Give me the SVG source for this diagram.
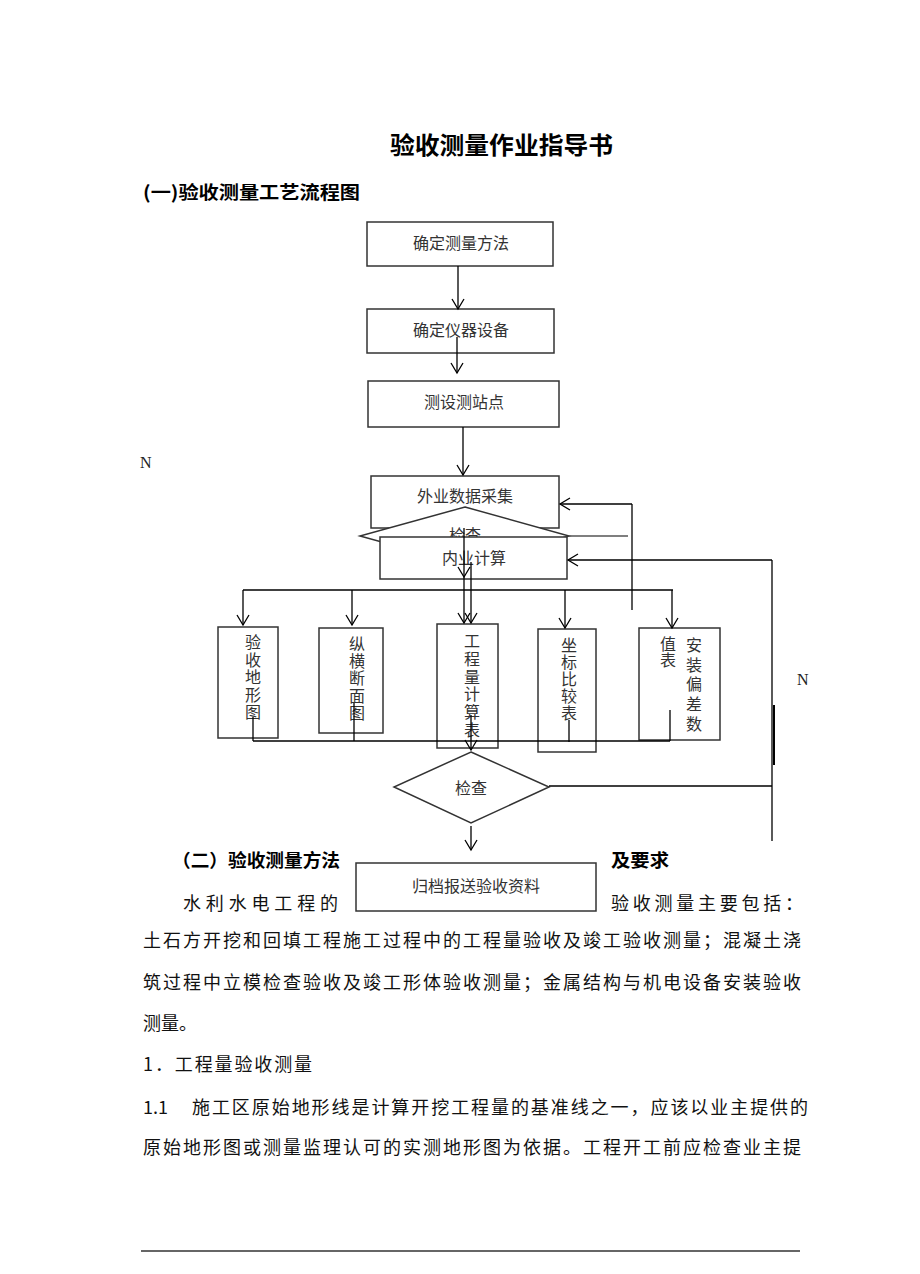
<svg xmlns="http://www.w3.org/2000/svg" width="920" height="1274" viewBox="0 0 920 1274">
<style>
.box{fill:#fff;stroke:#333;stroke-width:1.5}
.bt{font-family:"Noto Sans CJK SC",sans-serif;font-size:16px;fill:#333}
.vt{font-family:"Noto Sans CJK SC",sans-serif;font-size:16px;fill:#333;text-anchor:middle}
.h{font-family:"Noto Sans CJK SC",sans-serif;font-weight:bold;fill:#000}
.body{font-family:"Noto Sans CJK SC",sans-serif;font-size:18px;fill:#111}
.ser{font-family:"Liberation Serif",serif;font-size:16px;fill:#222}
.ln{stroke:#000;stroke-width:1.3;fill:none}
.gl{stroke:#555;stroke-width:1.3;fill:none}
.arr{marker-end:url(#ah)}
</style>
<defs>
<marker id="ah" markerUnits="userSpaceOnUse" markerWidth="14" markerHeight="14" viewBox="0 0 14 14" refX="12" refY="7" orient="auto">
<path d="M2,1 L12,7 L2,13" fill="none" stroke="#000" stroke-width="1.3"/>
</marker>
</defs>
<rect width="920" height="1274" fill="#fff"/>

<g id="headings">
<text class="h" x="390" y="154" font-size="24" textLength="223" lengthAdjust="spacingAndGlyphs">验收测量作业指导书</text>
<text class="h" x="143" y="199" font-size="18" textLength="217" lengthAdjust="spacingAndGlyphs">(一)验收测量工艺流程图</text>
</g>

<g id="n-method">
<rect class="box" x="367" y="222" width="186" height="44"/>
<text class="bt" x="461" y="249" text-anchor="middle">确定测量方法</text>
</g>
<g id="n-instrument">
<rect class="box" x="367" y="309" width="187" height="44"/>
<text class="bt" x="461" y="336" text-anchor="middle">确定仪器设备</text>
</g>
<g id="n-station">
<rect class="box" x="368" y="381" width="191" height="46"/>
<text class="bt" x="464" y="408" text-anchor="middle">测设测站点</text>
</g>
<g id="n-field">
<rect class="box" x="371" y="476" width="188" height="52"/>
<text class="bt" x="465" y="502" text-anchor="middle">外业数据采集</text>
</g>
<g id="n-check1">
<polygon class="box" points="465,507 569,536 465,565 360,536"/>
<text class="bt" x="465" y="541" text-anchor="middle">检查</text>
</g>
<g id="n-calc">
<rect class="box" x="380" y="537" width="187" height="42"/>
<text class="bt" x="474" y="564" text-anchor="middle">内业计算</text>
</g>

<g id="n-topo">
<rect class="box" x="218" y="627" width="60" height="111"/>
<text class="vt"><tspan x="253" y="648">验</tspan><tspan x="253" y="665.5">收</tspan><tspan x="253" y="683">地</tspan><tspan x="253" y="700.5">形</tspan><tspan x="253" y="718">图</tspan></text>
</g>
<g id="n-section">
<rect class="box" x="319" y="628" width="64" height="105"/>
<text class="vt"><tspan x="357" y="650">纵</tspan><tspan x="357" y="667">横</tspan><tspan x="357" y="684">断</tspan><tspan x="357" y="702">面</tspan><tspan x="357" y="719">图</tspan></text>
</g>
<g id="n-quantity">
<rect class="box" x="437" y="624" width="61" height="124"/>
<text class="vt"><tspan x="472" y="647">工</tspan><tspan x="472" y="665">程</tspan><tspan x="472" y="683">量</tspan><tspan x="472" y="700">计</tspan><tspan x="472" y="718">算</tspan><tspan x="472" y="736">表</tspan></text>
</g>
<g id="n-coord">
<rect class="box" x="538" y="629" width="58" height="123"/>
<text class="vt"><tspan x="569" y="651">坐</tspan><tspan x="569" y="668">标</tspan><tspan x="569" y="685">比</tspan><tspan x="569" y="702">较</tspan><tspan x="569" y="719">表</tspan></text>
</g>
<g id="n-install">
<rect class="box" x="639" y="628" width="81" height="112"/>
<text class="vt"><tspan x="668" y="650">值</tspan><tspan x="668" y="666">表</tspan></text>
<text class="vt"><tspan x="694" y="651">安</tspan><tspan x="694" y="671">装</tspan><tspan x="694" y="690">偏</tspan><tspan x="694" y="710">差</tspan><tspan x="694" y="730">数</tspan></text>
</g>

<g id="n-check2">
<polygon class="box" points="471,752 549,787 471,823 394,787"/>
<text class="bt" x="471" y="794" text-anchor="middle">检查</text>
</g>
<g id="n-archive">
<rect class="box" x="356" y="863" width="240" height="48"/>
<text class="bt" x="476" y="892" text-anchor="middle">归档报送验收资料</text>
</g>

<g id="labels">
<text class="ser" x="140" y="468">N</text>
<text class="ser" x="797" y="685">N</text>
</g>

<g id="connectors">
<line class="ln arr" x1="458" y1="266" x2="458" y2="309"/>
<line class="ln arr" x1="457" y1="337" x2="457" y2="373"/>
<line class="ln arr" x1="463" y1="427" x2="463" y2="475"/>
<line class="ln arr" x1="464" y1="528" x2="464" y2="577"/>
<line class="ln arr" x1="464" y1="577" x2="464" y2="623"/>
<line class="ln arr" x1="471" y1="562" x2="471" y2="623"/>
<line class="ln" x1="243" y1="590" x2="673" y2="590"/>
<line class="ln arr" x1="243" y1="590" x2="243" y2="625"/>
<line class="ln arr" x1="352" y1="590" x2="352" y2="625"/>
<line class="ln arr" x1="565" y1="590" x2="565" y2="628"/>
<line class="ln arr" x1="672" y1="590" x2="672" y2="628"/>
<line class="gl" x1="569" y1="536" x2="628" y2="536"/>
<line class="ln" x1="632" y1="504" x2="632" y2="610"/>
<line class="ln arr" x1="632" y1="504" x2="560" y2="504"/>
<line class="ln arr" x1="772" y1="560" x2="568" y2="560"/>
<line class="ln" x1="772" y1="560" x2="772" y2="841"/>
<line x1="774" y1="705" x2="774" y2="765" stroke="#000" stroke-width="2"/>
<line class="ln" x1="549" y1="786" x2="772" y2="786"/>
<line class="ln" x1="253" y1="741" x2="670" y2="741"/>
<line class="ln" x1="253" y1="717" x2="253" y2="741"/>
<line class="ln" x1="354" y1="703" x2="354" y2="741"/>
<line class="ln" x1="569" y1="720" x2="569" y2="742"/>
<line class="ln" x1="670" y1="710" x2="670" y2="741"/>
<line class="ln arr" x1="471" y1="715" x2="471" y2="750"/>
<line class="ln arr" x1="471" y1="826" x2="471" y2="850"/>
</g>

<g id="text-body">
<text class="h" x="172" y="867" font-size="18" textLength="168" lengthAdjust="spacingAndGlyphs">（二）验收测量方法</text>
<text class="h" x="611" y="867" font-size="18" textLength="58" lengthAdjust="spacingAndGlyphs">及要求</text>
<text class="body" x="183" y="910" textLength="155" lengthAdjust="spacing">水利水电工程的</text>
<text class="body" x="611" y="910" textLength="192" lengthAdjust="spacing">验收测量主要包括：</text>
<text class="body" x="143" y="947" textLength="658" lengthAdjust="spacing">土石方开挖和回填工程施工过程中的工程量验收及竣工验收测量；混凝土浇</text>
<text class="body" x="143" y="989" textLength="658" lengthAdjust="spacing">筑过程中立模检查验收及竣工形体验收测量；金属结构与机电设备安装验收</text>
<text class="body" x="143" y="1030">测量。</text>
<text class="body" x="143" y="1071" textLength="169" lengthAdjust="spacing">1．工程量验收测量</text>
<text class="body" x="143" y="1114">1.1</text>
<text class="body" x="192" y="1114" textLength="616" lengthAdjust="spacing">施工区原始地形线是计算开挖工程量的基准线之一，应该以业主提供的</text>
<text class="body" x="143" y="1154" textLength="658" lengthAdjust="spacing">原始地形图或测量监理认可的实测地形图为依据。工程开工前应检查业主提</text>
<line x1="141" y1="1251" x2="800" y2="1251" stroke="#333" stroke-width="1.5"/>
</g>
</svg>
